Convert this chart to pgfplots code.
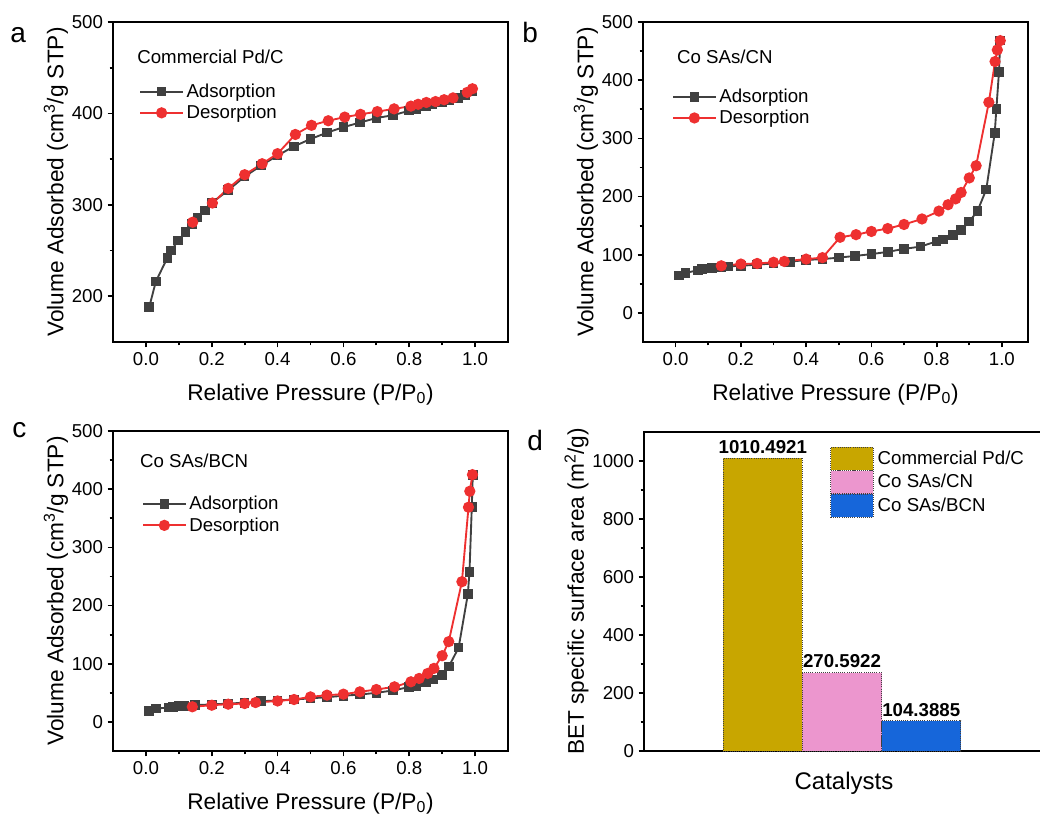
\documentclass[border=0pt]{standalone}
\usepackage{pgfplots}
\pgfplotsset{compat=1.18}
\usepackage{fontspec}
\setmainfont{Liberation Sans}

\definecolor{adsgrey}{RGB}{64,64,64}
\definecolor{desred}{RGB}{238,48,48}
\definecolor{pdcgold}{RGB}{200,166,0}
\definecolor{cnpink}{RGB}{236,150,206}
\definecolor{bcnblue}{RGB}{22,102,218}

\tikzset{sample/.style={font=\fontsize{14}{16}\selectfont, anchor=west, inner sep=0pt}}

\pgfplotsset{
  frame/.style={
    scale only axis,
    axis line style={line width=1.8pt},
    tick pos=left, tick align=outside,
    major tick length=4pt, minor tick length=2.5pt,
    tick style={line width=1.3pt, black},
    /pgf/number format/assume math mode=true,
    /pgf/number format/1000 sep={},
    tick label style={font=\fontsize{14}{16}\selectfont},
    label style={font=\fontsize{17}{20}\selectfont},
    ylabel style={yshift=-4pt},
  },
  iso/.style={
    frame,
    xmin=-0.1, xmax=1.1, xtick={0,0.2,0.4,0.6,0.8,1.0}, minor x tick num=1,
    minor y tick num=1,
    xticklabel style={/pgf/number format/.cd, fixed, fixed zerofill, precision=1},
    xlabel={Relative Pressure (P/P\textsubscript{0})},
    xlabel style={yshift=-7pt},
    ylabel={Volume Adsorbed (cm\textsuperscript{3}/g STP)},
    legend style={draw=none, fill=none, font=\fontsize{14}{16}\selectfont,
      row sep=0.3pt, inner sep=0pt, anchor=north west},
    legend cell align=left,
    legend image code/.code={\draw[mark repeat=2,mark phase=2,##1]
      plot coordinates {(0pt,0pt) (16pt,0pt) (32pt,0pt)};},
  },
  ads/.style={color=adsgrey, line width=1.4pt, mark=square*, mark size=2.9pt},
  des/.style={color=desred, line width=1.4pt, mark=*, mark size=3.5pt},
  patch legend/.style={
    legend image code/.code={\draw[##1] (0pt,-8.6pt) rectangle (32pt,8.6pt);}},
  bar/.style={draw=black!75, densely dotted, line width=0.6pt, patch legend},
}

% Isotherms: relative pressure vs. adsorbed volume
\pgfplotstableread{
p v
0.010 188
0.030 216
0.065 242
0.077 250
0.098 261
0.120 270
0.140 279
0.157 286
0.180 294
0.200 302
0.250 316
0.300 331
0.350 343
0.400 354
0.450 364
0.500 372
0.550 379
0.600 385
0.650 390
0.700 395
0.750 398
0.800 403
0.820 405
0.850 408
0.870 410
0.900 412
0.920 414
0.950 417
0.970 420
0.990 424
}\pdcads
\pgfplotstableread{
p v
0.142 281
0.202 302
0.250 318
0.300 333
0.353 345
0.400 356
0.454 377
0.503 387
0.554 392
0.604 396
0.652 399
0.703 402
0.754 405
0.805 408
0.827 410
0.852 412
0.880 413
0.906 415
0.933 417
0.976 423
0.992 427
}\pdcdes
\pgfplotstableread{
p v
0.010 64
0.030 69
0.068 73
0.080 75
0.097 76
0.112 77
0.140 79
0.160 80
0.200 81
0.250 83
0.300 85
0.350 88
0.400 91
0.450 92.5
0.500 95
0.550 98
0.600 101
0.650 105
0.700 110
0.750 114
0.800 123
0.820 126
0.850 134
0.874 142
0.900 157
0.925 175
0.952 212
0.978 309
0.983 350
0.991 414
0.995 468
}\cnads
\pgfplotstableread{
p v
0.140 81
0.200 84
0.250 85
0.300 87
0.333 88.5
0.400 92.5
0.450 95
0.504 130
0.553 134.5
0.600 140
0.650 145
0.700 152
0.755 161.5
0.807 175
0.835 186
0.858 196
0.875 207
0.900 232
0.921 253
0.960 362
0.979 432
0.986 452
0.995 468
}\cndes
\pgfplotstableread{
p v
0.010 19
0.030 23
0.070 24.7
0.082 26
0.100 27
0.117 27.6
0.150 29
0.200 30
0.250 31.5
0.300 33
0.350 35.5
0.400 37
0.450 38.5
0.500 40.5
0.550 42.5
0.600 45
0.650 47
0.700 50
0.750 54
0.800 60
0.820 62
0.850 68
0.874 73
0.900 80.5
0.920 95
0.950 127.6
0.978 219.5
0.983 258
0.990 369
0.993 424
}\bcnads
\pgfplotstableread{
p v
0.141 26
0.200 28.7
0.250 30.5
0.300 31.6
0.333 33.3
0.400 36
0.450 38.5
0.500 43
0.550 46
0.600 47.7
0.650 51.7
0.700 55.7
0.755 60.3
0.805 69
0.830 74.7
0.856 83.3
0.875 92
0.900 113.8
0.920 138
0.960 241
0.980 369
0.984 396.5
0.992 425
}\bcndes

\begin{document}
\begin{tikzpicture}
\useasboundingbox (0pt,0pt) rectangle (780pt,-610.5pt);

% panel letters
\node[anchor=base west, inner sep=0pt, font=\fontsize{21}{24}\selectfont] at (7.5pt,-31.5pt) {a};
\node[anchor=base west, inner sep=0pt, font=\fontsize{21}{24}\selectfont] at (391.5pt,-31.5pt) {b};
\node[anchor=base west, inner sep=0pt, font=\fontsize{21}{24}\selectfont] at (9pt,-327.75pt) {c};
\node[anchor=base west, inner sep=0pt, font=\fontsize{21}{24}\selectfont] at (395.25pt,-337.5pt) {d};

% (a) Commercial Pd/C
\begin{axis}[iso, at={(84.75pt,-256.5pt)}, anchor=south west,
  width=296.25pt, height=240pt,
  ymin=150, ymax=500, ytick={200,300,400,500},
  legend style={at={(rel axis cs:0.066,0.816)}}]
\addplot[ads] table {\pdcads};
\addlegendentry{Adsorption}
\addplot[des] table {\pdcdes};
\addlegendentry{Desorption}
\node[sample] at (rel axis cs:0.061,0.89) {Commercial Pd/C};
\end{axis}

% (b) Co SAs/CN
\begin{axis}[iso, at={(482.25pt,-256.5pt)}, anchor=south west,
  width=288.75pt, height=240pt, xmax=1.08,
  ymin=-50, ymax=500, ytick={0,100,200,300,400,500},
  legend style={at={(rel axis cs:0.075,0.8)}}]
\addplot[ads] table {\cnads};
\addlegendentry{Adsorption}
\addplot[des] table {\cndes};
\addlegendentry{Desorption}
\node[sample] at (rel axis cs:0.088,0.89) {Co SAs/CN};
\end{axis}

% (c) Co SAs/BCN
\begin{axis}[iso, at={(84.75pt,-563.25pt)}, anchor=south west,
  width=296.25pt, height=240pt,
  ymin=-50, ymax=500, ytick={0,100,200,300,400,500},
  legend style={at={(rel axis cs:0.073,0.805)}}]
\addplot[ads] table {\bcnads};
\addlegendentry{Adsorption}
\addplot[des] table {\bcndes};
\addlegendentry{Desorption}
\node[sample] at (rel axis cs:0.068,0.906) {Co SAs/BCN};
\end{axis}

% (d) BET surface areas
\begin{axis}[frame, at={(483pt,-563.25pt)}, anchor=south west,
  width=300pt, height=239.25pt,
  xmin=0, xmax=5.05, ymin=0, ymax=1100,
  xtick=\empty, ytick={0,200,400,600,800,1000}, minor y tick num=1,
  xlabel={Catalysts},
  xlabel style={font=\fontsize{18}{21}\selectfont, yshift=-8pt},
  ylabel={BET specific surface area (m\textsuperscript{2}/g)},
  ybar, bar width=1, bar shift=0pt, patch legend,
  nodes near coords, point meta=explicit symbolic,
  every node near coord/.append style={font=\bfseries\fontsize{14}{16}\selectfont,
    text=black, solid, inner sep=3pt},
  legend style={draw=none, fill=none, font=\fontsize{14}{16}\selectfont,
    at={(rel axis cs:0.465,0.955)}, anchor=north west, row sep=0pt, inner sep=0pt,
    nodes={inner sep=0pt}, column sep=3pt},
  legend cell align=left,
]
\addplot[fill=pdcgold, bar] coordinates {(1.5,1010.4921) [1010.4921]};
\addlegendentry{Commercial Pd/C}
\addplot[fill=cnpink, bar] coordinates {(2.5,270.5922) [270.5922]};
\addlegendentry{Co SAs/CN}
\addplot[fill=bcnblue, bar] coordinates {(3.5,104.3885) [104.3885]};
\addlegendentry{Co SAs/BCN}
\end{axis}
\end{tikzpicture}
\end{document}
